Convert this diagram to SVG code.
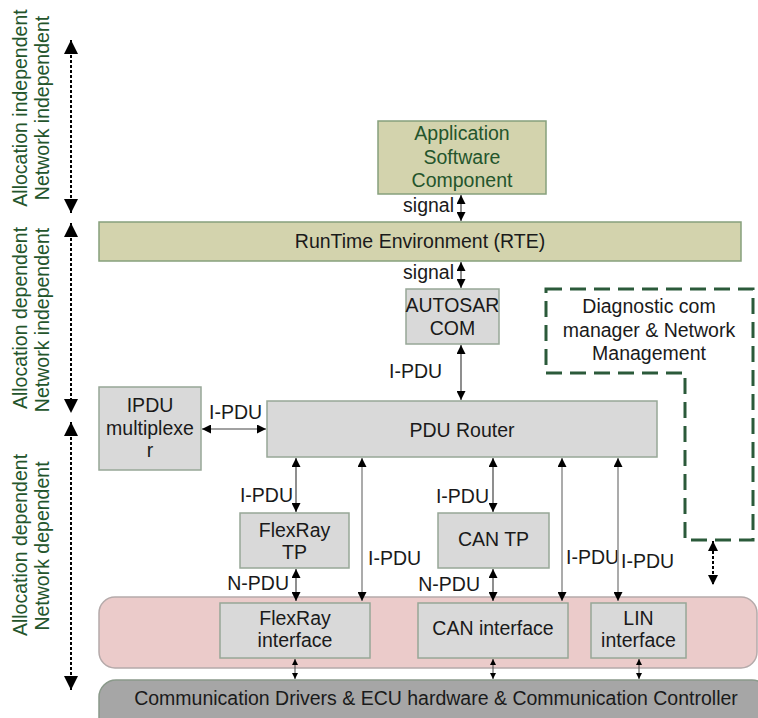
<svg xmlns="http://www.w3.org/2000/svg" width="758" height="718" viewBox="0 0 758 718">
<defs>
<style>
text{font-family:"Liberation Sans",Arial,sans-serif;font-size:19.5px;fill:#1a1a1a}
.g{fill:#24552c}
.c{text-anchor:middle}
.e{text-anchor:end}
.box{fill:#d9d9d9;stroke:#97a797;stroke-width:1.5}
.olive{fill:#d3d3ad;stroke:#86a07c;stroke-width:1.5}
.ln{stroke:#8f8f8f;stroke-width:1.5;fill:none;marker-start:url(#ah);marker-end:url(#ah)}
.dk{stroke:#444;stroke-width:1.2;fill:none;marker-start:url(#ah);marker-end:url(#ah)}
.sm{stroke:#444;stroke-width:1;fill:none;marker-start:url(#as);marker-end:url(#as)}
.dot{stroke:#000;stroke-width:2;stroke-dasharray:3 2;fill:none;marker-start:url(#al);marker-end:url(#al)}
.dot2{stroke:#000;stroke-width:2;stroke-dasharray:3 2;fill:none;marker-start:url(#am);marker-end:url(#am)}
</style>
<marker id="ah" viewBox="0 0 10 10" refX="10" refY="5" markerWidth="9" markerHeight="9" markerUnits="userSpaceOnUse" orient="auto-start-reverse"><path d="M0,0L10,5L0,10z" fill="#000"/></marker>
<marker id="as" viewBox="0 0 10 10" refX="10" refY="5" markerWidth="6" markerHeight="6" markerUnits="userSpaceOnUse" orient="auto-start-reverse"><path d="M0,0L10,5L0,10z" fill="#000"/></marker>
<marker id="al" viewBox="0 0 10 10" refX="10" refY="5" markerWidth="14" markerHeight="14" markerUnits="userSpaceOnUse" orient="auto-start-reverse"><path d="M0,0L10,5L0,10z" fill="#000"/></marker>
<marker id="am" viewBox="0 0 10 10" refX="10" refY="5" markerWidth="10" markerHeight="10" markerUnits="userSpaceOnUse" orient="auto-start-reverse"><path d="M0,0L10,5L0,10z" fill="#000"/></marker>
</defs>
<rect width="758" height="718" fill="#fff"/>

<g id="layer-labels">
<text class="g c" transform="translate(27,108) rotate(-90)">Allocation independent</text>
<text class="g c" transform="translate(49,108) rotate(-90)">Network independent</text>
<text class="g c" transform="translate(27,318) rotate(-90)">Allocation dependent</text>
<text class="g c" transform="translate(49,320) rotate(-90)">Network independent</text>
<text class="g c" transform="translate(27,545) rotate(-90)">Allocation dependent</text>
<text class="g c" transform="translate(49,546) rotate(-90)">Network dependent</text>
</g>

<g id="bottom-band">
<rect x="99" y="680" width="670" height="60" rx="17" fill="#a6a6a6" stroke="#8a998a" stroke-width="1.5"/>
<text class="c" x="436" y="705">Communication Drivers &amp; ECU hardware &amp; Communication Controller</text>
</g>
<g id="interface-band">
<rect x="99" y="597" width="658" height="71" rx="16" fill="#ebcbca" stroke="#b5aaaa" stroke-width="1.5"/>
</g>

<g id="asc"><rect class="olive" x="378" y="121" width="168" height="73"/>
<text class="g c" x="462" y="140">Application</text><text class="g c" x="462" y="164">Software</text><text class="g c" x="462" y="187">Component</text></g>
<g id="rte"><rect class="olive" x="99" y="222" width="642" height="39"/>
<text class="c" x="420" y="248">RunTime Environment (RTE)</text></g>
<g id="com"><rect class="box" x="406" y="289" width="93" height="55"/>
<text class="c" x="452.5" y="312">AUTOSAR</text><text class="c" x="452.5" y="335">COM</text></g>
<g id="diag"><path d="M546,289H753V540H685V373H546Z" fill="none" stroke="#2b5a3a" stroke-width="3" stroke-dasharray="16 8"/>
<text class="c" x="649" y="313">Diagnostic com</text><text class="c" x="649" y="337">manager &amp; Network</text><text class="c" x="649" y="360">Management</text></g>
<g id="ipdumux"><rect class="box" x="99" y="387" width="102" height="83"/>
<text class="c" x="150" y="412">IPDU</text><text class="c" x="150" y="435">multiplexe</text><text class="c" x="150" y="457">r</text></g>
<g id="router"><rect class="box" x="267" y="401" width="390" height="56"/>
<text class="c" x="462" y="437">PDU Router</text></g>
<g id="frtp"><rect class="box" x="240" y="513" width="109" height="55"/>
<text class="c" x="294.5" y="537">FlexRay</text><text class="c" x="294.5" y="559">TP</text></g>
<g id="cantp"><rect class="box" x="438" y="513" width="111" height="55"/>
<text class="c" x="493.5" y="546">CAN TP</text></g>
<g id="frif"><rect class="box" x="220" y="603" width="150" height="55"/>
<text class="c" x="295" y="625">FlexRay</text><text class="c" x="295" y="647">interface</text></g>
<g id="canif"><rect class="box" x="418" y="603" width="150" height="55"/>
<text class="c" x="493" y="635">CAN interface</text></g>
<g id="linif"><rect class="box" x="591" y="603" width="95" height="55"/>
<text class="c" x="638.5" y="625">LIN</text><text class="c" x="638.5" y="647">interface</text></g>

<g id="connectors">
<line class="dot" x1="71" y1="40" x2="71" y2="213"/>
<line class="dot" x1="71" y1="223" x2="71" y2="413"/>
<line class="dot" x1="71" y1="422" x2="71" y2="690"/>
<line class="dot2" x1="713" y1="541" x2="713" y2="585"/>
<line class="dk" x1="461" y1="195" x2="461" y2="221"/>
<text class="e" x="454" y="212">signal</text>
<line class="dk" x1="461" y1="262" x2="461" y2="288"/>
<text class="e" x="454" y="279">signal</text>
<line class="dk" x1="461" y1="345" x2="461" y2="400"/>
<text x="389" y="378">I-PDU</text>
<line class="dk" x1="202" y1="429" x2="266" y2="429"/>
<text x="209" y="419">I-PDU</text>
<line class="dk" x1="296" y1="458" x2="296" y2="512"/>
<text class="e" x="293" y="502">I-PDU</text>
<line class="dk" x1="296" y1="569" x2="296" y2="601"/>
<text class="e" x="289" y="590">N-PDU</text>
<line class="ln" x1="362" y1="458" x2="362" y2="601"/>
<text x="368" y="565">I-PDU</text>
<line class="dk" x1="493" y1="458" x2="493" y2="512"/>
<text class="e" x="489" y="503">I-PDU</text>
<line class="dk" x1="493" y1="569" x2="493" y2="601"/>
<text class="e" x="480" y="591">N-PDU</text>
<line class="ln" x1="562" y1="458" x2="562" y2="601"/>
<text x="566" y="564">I-PDU</text>
<line class="ln" x1="618" y1="458" x2="618" y2="601"/>
<text x="621" y="568">I-PDU</text>
<line class="sm" x1="295" y1="659" x2="295" y2="679"/>
<line class="sm" x1="493" y1="659" x2="493" y2="679"/>
<line class="sm" x1="639" y1="659" x2="639" y2="679"/>
</g>
</svg>
